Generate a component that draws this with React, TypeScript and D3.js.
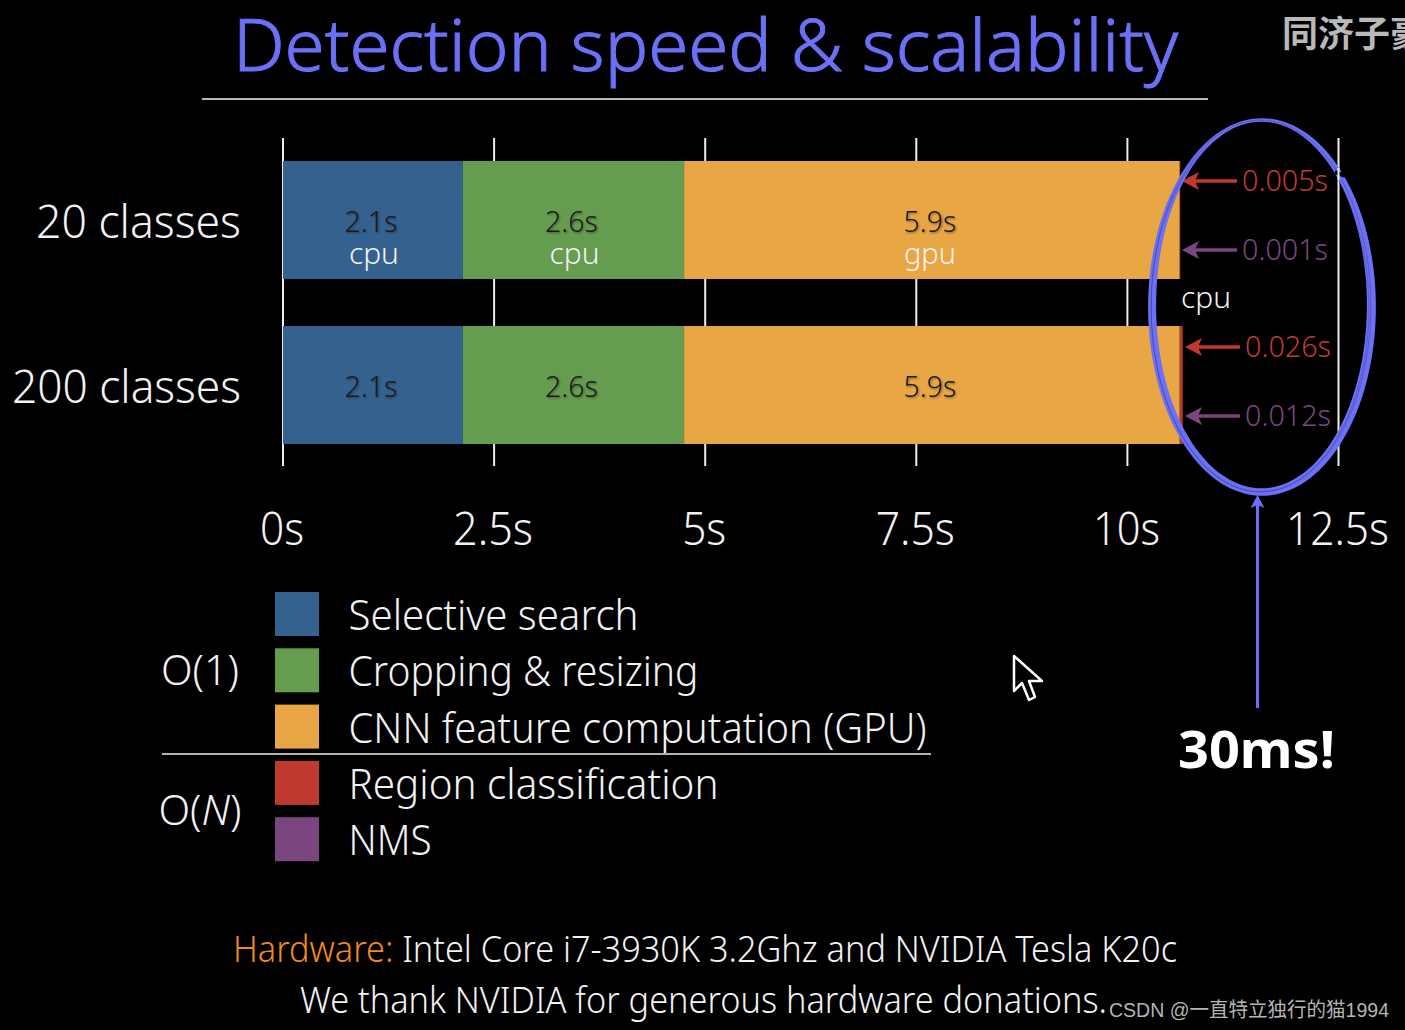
import React from 'react';
import * as d3 from 'd3';

const W = 1405, H = 1030;
const categories = ['20 classes', '200 classes'];
const stages = ['Selective search', 'Cropping & resizing', 'CNN feature computation (GPU)', 'Region classification', 'NMS'];
const stageColors = ['#35618f', '#669c50', '#e8a644', '#c0392f', '#7b4680'];
const fastValues = [2.13, 2.62, 5.87];
const fastLabels = ['2.1s', '2.6s', '5.9s'];
const subLabels = ['cpu', 'cpu', 'gpu'];
const tickValues = [0, 2.5, 5, 7.5, 10, 12.5];
const tickLabels = ['0s', '2.5s', '5s', '7.5s', '10s', '12.5s'];
const tails = [[0.005, 0.001], [0.026, 0.012]];
const tailLabels = [['0.005s', '0.001s'], ['0.026s', '0.012s']];
const legendWidths = [290, 350, 578, 370, 83];
const tickWidths = [44, 80, 44, 79, 67, 103];
const F = "'Noto Sans', 'Open Sans', sans-serif";
const INK = '#f2f2f2';
const RING = '#6c70f6';

const x = d3.scaleLinear().domain([0, 12.5]).range([283, 1338.5]);
const y = d3.scaleBand().domain(categories).range([161, 444]).paddingInner(0.285).paddingOuter(0);

const ellipse = (cx: number, cy: number, rx: number, ry: number) => {
  const line = d3.line<number>()
    .x(a => cx + rx * Math.cos(a))
    .y(a => cy + ry * Math.sin(a))
    .curve(d3.curveBasisClosed);
  return line(d3.range(0, Math.PI * 2, Math.PI / 40)) as string;
};

const Arrow = ({ x1, x2, yy, color }: any) => (
  <g>
    <line x1={x1} x2={x2 + 12} y1={yy} y2={yy} stroke={color} strokeWidth={3.5} />
    <path d={`M${x2},${yy} L${x2 + 17},${yy - 9} L${x2 + 13},${yy} L${x2 + 17},${yy + 9} Z`} fill={color} />
  </g>
);

export default function App() {
  const barH = y.bandwidth();
  const L = { fontWeight: 300, lengthAdjust: 'spacingAndGlyphs' } as any;
  return (
    <svg width={W} height={H} viewBox={`0 0 ${W} ${H}`} style={{ position: 'fixed', left: 0, top: 0, background: '#000', fontFamily: F }}>
      <defs>
        <filter id="soft" x="-20%" y="-20%" width="140%" height="140%">
          <feDropShadow dx="1" dy="1" stdDeviation="0.8" floodColor="#000" floodOpacity="0.45" />
        </filter>
      </defs>
      <rect width={W} height={H} fill="#000" />
      <text x={705.5} y={71} textAnchor="middle" fontSize={72} fill={RING} stroke={RING} strokeWidth={1} textLength={945} {...L}>Detection speed &amp; scalability</text>
      <line x1={202} x2={1208} y1={99} y2={99} stroke="#f4f4f4" strokeWidth={1.5} />
      <text x={1282} y={47} fontSize={36} fontWeight={700} fill="#b9b9b9" fontFamily="'Noto Sans CJK SC'">同济子豪</text>

      {tickValues.map((t, i) => (
        <g key={t}>
          <line x1={x(t)} x2={x(t)} y1={138} y2={466} stroke="#eee" strokeWidth={2} />
          <text x={x(t) - 1} y={545} textAnchor="middle" fontSize={46} fill={INK} textLength={tickWidths[i]} {...L}>{tickLabels[i]}</text>
        </g>
      ))}

      {categories.map((c, ci) => {
        let acc = 0;
        const top = y(c) as number;
        const total = d3.sum(fastValues);
        return (
          <g key={c}>
            <text x={241} y={top + 76.5} textAnchor="end" fontSize={46} fill={INK} textLength={ci ? 229 : 205} {...L}>{c}</text>
            {fastValues.map((v, i) => {
              const x0 = x(acc);
              acc += v;
              return <rect key={i} x={x0} y={top} width={x(acc) - x0} height={barH} fill={stageColors[i]} />;
            })}
            <rect x={x(total)} y={top} width={x(tails[ci][0]) - x(0)} height={barH} fill={stageColors[3]} />
            <rect x={x(total + tails[ci][0])} y={top} width={x(tails[ci][1]) - x(0)} height={barH} fill={stageColors[3]} opacity={0.75} />
          </g>
        );
      })}
      {categories.map((c, ci) => {
        let acc = 0;
        const top = y(c) as number;
        return (
          <g key={c}>
            {fastValues.map((v, i) => {
              const x0 = x(acc);
              acc += v;
              const cx = (x0 + x(acc)) / 2;
              return (
                <g key={i}>
                  <text x={cx - 2} y={top + 70.5} textAnchor="middle" fontSize={30} fill="#1c1c1c" textLength={53} filter="url(#soft)" {...L}>{fastLabels[i]}</text>
                  {ci === 0 && <text x={i === 2 ? cx - 2 : cx + 1} y={top + 103} textAnchor="middle" fontSize={30} fill={INK} textLength={i === 2 ? 52 : 50} {...L}>{subLabels[i]}</text>}
                </g>
              );
            })}
          </g>
        );
      })}

      <text x={1181} y={308} fontSize={30} fill={INK} textLength={50} {...L}>cpu</text>
      {categories.map((c, ci) => {
        const off = ci ? 3 : 0;
        const ys = ci ? [347, 416] : [181, 250];
        return (
          <g key={c}>
            {ys.map((yy, k) => (
              <g key={k}>
                <Arrow x1={1237 + off} x2={1182 + off} yy={yy} color={k ? '#7b4680' : '#c0392f'} />
                <text x={1242 + off} y={yy + 10} fontSize={30} fill={k ? '#7b4680' : '#c0392f'} textLength={86} {...L}>{tailLabels[ci][k]}</text>
              </g>
            ))}
          </g>
        );
      })}

      <path d={`${ellipse(1262, 307, 114, 189)} ${ellipse(1261.5, 305, 105.5, 183.5)}`} fill={RING} fillRule="evenodd" />
      <path d={ellipse(1261, 306, 110, 186)} fill="none" stroke="#000" strokeWidth={0.7} opacity={0.3} />
      <path d={ellipse(1260, 308, 109, 184)} fill="none" stroke="#000" strokeWidth={0.7} opacity={0.25} />
      <line x1={1335} x2={1345} y1={172} y2={176} stroke="#000" strokeWidth={4} />
      <line x1={x(12.5)} x2={x(12.5)} y1={168} y2={180} stroke="#eee" strokeWidth={2} />

      <line x1={1257.5} x2={1257.5} y1={708} y2={505} stroke={RING} strokeWidth={3} />
      <path d="M1257.5,495 l7,13 l-7,-3 l-7,3 z" fill={RING} />
      <text x={1256.5} y={768} textAnchor="middle" fontSize={52} fontWeight={700} fill="#fff" textLength={157} lengthAdjust="spacingAndGlyphs">30ms!</text>

      {stages.map((s, i) => {
        const top = 592 + i * 56.3;
        return (
          <g key={s}>
            <rect x={275} y={top} width={44} height={44} fill={stageColors[i]} />
            <text x={348.5} y={top + 38} fontSize={43} fill={INK} textLength={legendWidths[i]} {...L}>{s}</text>
          </g>
        );
      })}
      <line x1={162} x2={931} y1={754} y2={754} stroke="#eee" strokeWidth={1.5} />
      <text x={200} y={685} textAnchor="middle" fontSize={43} fill={INK} textLength={78} {...L}>O(1)</text>
      <text x={200} y={825} textAnchor="middle" fontSize={43} fill={INK} fontWeight={300} textLength={83} lengthAdjust="spacingAndGlyphs">O(<tspan fontStyle="italic">N</tspan>)</text>

      <path d="M1014,656 L1014,691 L1022,683 L1029,700 L1035,697 L1029,681 L1042,681 Z" fill="#000" stroke="#fff" strokeWidth={2.5} strokeLinejoin="round" />

      <text x={705} y={962} textAnchor="middle" fontSize={36} fill={INK} textLength={944} {...L}><tspan fill="#f08a1c">Hardware:</tspan> Intel Core i7-3930K 3.2Ghz and NVIDIA Tesla K20c</text>
      <text x={300} y={1013} fontSize={36} fill={INK} textLength={807} {...L}>We thank NVIDIA for generous hardware donations.</text>
      <text x={1109} y={1017} fontSize={20} fill="#b5b5b5" fontFamily="'Liberation Sans', 'Noto Sans CJK SC'" textLength={280} lengthAdjust="spacingAndGlyphs">CSDN @一直特立独行的猫1994</text>
    </svg>
  );
}
